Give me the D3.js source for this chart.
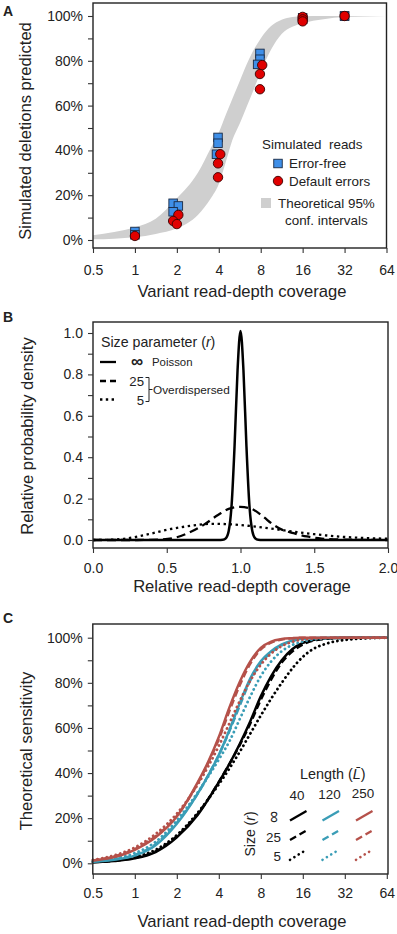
<!DOCTYPE html>
<html><head><meta charset="utf-8">
<script src="https://cdn.jsdelivr.net/npm/d3@7"></script>
<style>
body{margin:0;background:#fff}
svg{display:block}
text{font-family:"Liberation Sans",Arial,Helvetica,sans-serif;fill:#222}
</style>
</head><body>
<svg id="c" width="397" height="934"></svg>
<script>
// ---------------- DATA ----------------
const coverageTicks = [0.5, 1, 2, 4, 8, 16, 32, 64];
const pctTicks = [0, 10, 20, 30, 40, 50, 60, 70, 80, 90, 100];
const pctLabels = [0, 20, 40, 60, 80, 100];

// Panel A: theoretical 95% band
const bandX     = [0.5, 0.71, 1, 1.41, 2, 2.83, 3.5, 4, 4.5, 5, 5.66, 6.3, 7, 8, 9.5, 11.3, 13.5, 16, 22.6, 32, 45, 64];
const bandUpper = [2.1, 3.6, 5.7, 9.5, 18.6, 30, 41, 48, 56, 63, 71, 78, 84, 90, 95.5, 98.3, 99.5, 99.9, 100, 100, 100, 100];
const bandLower = [0.3, 0.6, 1.2, 2.7, 5.2, 11.2, 18.5, 25, 35, 44.5, 52, 59, 66, 75, 85, 92, 95.2, 96.8, 98.6, 99.5, 99.8, 100];

// Panel A: simulated reads
const errorFree = [[1,3.8],[1,2.3],[1.88,16.4],[2.05,15.2],[1.88,12.6],[3.95,45.8],[3.95,43.2],[3.85,38.3],
                   [7.9,83.3],[7.9,80.7],[7.6,78.4],[16,99.2],[16,98.5],[32,100],[32,100]];
const defaultErrors = [[1,1.8],[2.05,11.2],[1.88,8.5],[2.0,7.1],[4.1,38.3],[3.95,34.2],[3.95,28],
                   [8.2,78.1],[7.9,74.1],[7.9,67.3],[16,99.6],[16,98.5],[16,97.6],[32,100]];

// Panel B: relative probability density
const bTicksX = [0, 0.5, 1, 1.5, 2];
const bTicksY = [0, 0.1, 0.2, 0.3, 0.4, 0.5, 0.6, 0.7, 0.8, 0.9, 1.0];
const bLabelsY = [0, 0.2, 0.4, 0.6, 0.8, 1.0];
const poisson = [[0,0],[0.85,0],[0.88,0.001],[0.9,0.008],[0.92,0.044],[0.94,0.172],[0.96,0.458],[0.98,0.82],[1.0,1.01],
                 [1.02,0.82],[1.04,0.458],[1.06,0.172],[1.08,0.044],[1.1,0.008],[1.12,0.001],[1.15,0],[2,0]];
const nb25 = [[0,0],[0.3,0],[0.45,0.002],[0.55,0.01],[0.65,0.035],[0.75,0.073],[0.85,0.122],[0.93,0.153],[1.0,0.16],
              [1.07,0.152],[1.15,0.115],[1.22,0.075],[1.28,0.05],[1.36,0.033],[1.45,0.017],[1.55,0.007],[1.7,0.002],[2,0]];
const nb5 = [[0,0],[0.1,0.001],[0.2,0.005],[0.3,0.016],[0.4,0.032],[0.5,0.049],[0.6,0.062],[0.7,0.072],[0.8,0.078],
             [0.9,0.077],[1.0,0.072],[1.1,0.065],[1.2,0.056],[1.3,0.046],[1.4,0.037],[1.5,0.028],[1.6,0.021],
             [1.7,0.015],[1.8,0.011],[1.9,0.008],[2.0,0.006]];

// Panel C: theoretical sensitivity (length 40 / 120 / 250; size inf / 25 / 5)
const sensL40 = {
  inf: [[0.5,0.5],[0.71,1.0],[1,2.2],[1.41,5],[2,11.5],[2.83,21.5],[4,36],[4.76,44],[5.66,53],[6.73,63],[8,74],[9.5,83],[11.3,90],[13.5,95],[16,97.7],[19,99],[22.6,99.6],[32,100],[64,100]],
  r25: [[0.5,0.5],[0.71,1.1],[1,2.4],[1.41,5.3],[2,12],[2.83,22],[4,36],[4.76,44],[5.66,52.5],[6.73,62],[8,72.5],[9.5,81.5],[11.3,89],[13.5,94],[16,97],[19,98.7],[22.6,99.4],[32,99.9],[64,100]],
  r5:  [[0.5,0.6],[0.71,1.3],[1,2.8],[1.41,6],[2,12.5],[2.83,22.5],[4,35],[4.76,42],[5.66,49.5],[6.73,57.5],[8,65.5],[9.5,73],[11.3,80],[13.5,86.5],[16,91.5],[19,95],[22.6,97],[27,98.3],[32,99],[45,99.7],[64,100]]
};
const sensL120 = {
  inf: [[0.5,0.7],[0.71,1.6],[1,3.4],[1.41,8],[2,17.5],[2.83,31],[3.36,39],[4,48],[4.76,59],[5.66,71],[6.73,82],[8,89.5],[9.5,94],[11.3,97],[13.5,98.8],[16,99.6],[22.6,100],[64,100]],
  r25: [[0.5,0.8],[0.71,1.8],[1,3.7],[1.41,8.5],[2,18],[2.83,31],[3.36,39],[4,48],[4.76,58.5],[5.66,70],[6.73,81],[8,88.8],[9.5,93.5],[11.3,96.6],[13.5,98.5],[16,99.4],[22.6,99.9],[64,100]],
  r5:  [[0.5,1],[0.71,2.2],[1,4.5],[1.41,9.5],[2,19],[2.83,31.5],[4,46],[4.76,54],[5.66,64],[6.73,74],[8,83],[9.5,89.5],[11.3,94],[13.5,96.8],[16,98.3],[19,99.2],[22.6,99.6],[32,99.9],[64,100]]
};
const sensL250 = {
  inf: [[0.5,1.2],[0.71,2.8],[1,6],[1.41,11.5],[2,20.7],[2.83,36],[3.36,45],[4,56],[4.76,69],[5.66,80.5],[6.73,89.5],[8,95.5],[9.5,98.3],[11.3,99.4],[13.5,99.8],[16,100],[64,100]],
  r25: [[0.5,1.3],[0.71,3],[1,6.3],[1.41,12],[2,21],[2.83,35.5],[3.36,44.5],[4,55],[4.76,67.5],[5.66,79],[6.73,88.5],[8,94.8],[9.5,97.8],[11.3,99.2],[13.5,99.7],[16,100],[64,100]],
  r5:  [[0.5,1.5],[0.71,3.5],[1,7],[1.41,13],[2,22],[2.83,35],[3.36,43],[4,52],[4.76,62],[5.66,72],[6.73,81],[8,88],[9.5,93],[11.3,96.3],[13.5,98.2],[16,99.2],[22.6,99.8],[32,100],[64,100]]
};
const lengthLabels = ["40", "120", "250"];
const sizeLabels = ["\u221E", "25", "5"];

// ---------------- DRAWING ----------------
const svg = d3.select("#c");
const FONT = '"Liberation Sans",Arial,Helvetica,sans-serif';
const ink = "#222";

function box(x0, x1, y0, y1) {
  svg.append("rect").attr("x", x0).attr("y", y0).attr("width", x1 - x0).attr("height", y1 - y0)
    .attr("fill", "none").attr("stroke", ink).attr("stroke-width", 1.4);
}
function leftAxis(scale, ticks, labelled, fmt, x) {
  const g = svg.append("g").attr("transform", `translate(${x},0)`)
    .call(d3.axisLeft(scale).tickValues(ticks).tickSize(5).tickPadding(5)
      .tickFormat(d => labelled.includes(d) ? fmt(d) : ""));
  g.select(".domain").remove();
  g.attr("font-family", FONT).attr("font-size", 14).attr("color", ink);
  g.selectAll(".tick line").attr("stroke", "#333").attr("stroke-width", 1.1);
  return g;
}
function bottomAxis(scale, ticks, fmt, y, baseOff) {
  const g = svg.append("g").attr("transform", `translate(0,${y})`)
    .call(d3.axisBottom(scale).tickValues(ticks).tickSize(5).tickFormat(fmt));
  g.select(".domain").remove();
  g.attr("font-family", FONT).attr("font-size", 14).attr("color", ink);
  g.selectAll(".tick line").attr("stroke", "#333").attr("stroke-width", 1.1);
  g.selectAll(".tick text").attr("y", baseOff).attr("dy", null);
  return g;
}
function yTitle(txt, x, y) {
  svg.append("text").attr("transform", `translate(${x},${y}) rotate(-90)`).attr("text-anchor", "middle")
    .attr("font-size", 16.6).text(txt);
}
function xTitle(txt, x, y) {
  svg.append("text").attr("x", x).attr("y", y).attr("text-anchor", "middle").attr("font-size", 16.6).text(txt);
}
function panelLabel(t, y) {
  svg.append("text").attr("x", 3).attr("y", y).attr("font-size", 14).attr("font-weight", "bold").text(t);
}
const covFmt = d => String(d);
const pctFmt = d => d + "%";

// ===== Panel A =====
const xA = d3.scaleLog().base(2).domain([0.5, 64]).range([93, 386.5]);
const yA = d3.scaleLinear().domain([0, 100]).range([240, 16]);
const bandData = bandX.map((x, i) => ({x, lo: bandLower[i], hi: bandUpper[i]}));
svg.append("path").datum(bandData)
  .attr("d", d3.area().x(d => xA(d.x)).y0(d => yA(d.lo)).y1(d => yA(d.hi)).curve(d3.curveMonotoneX))
  .attr("fill", "#cfcfcf");
const sq = 8.5;
svg.append("g").selectAll("rect").data(errorFree).join("rect")
  .attr("x", d => xA(d[0]) - sq / 2).attr("y", d => yA(d[1]) - sq / 2).attr("width", sq).attr("height", sq)
  .attr("fill", "#3f8fe8").attr("stroke", "#1a2a44").attr("stroke-width", 0.9);
svg.append("g").selectAll("circle").data(defaultErrors).join("circle")
  .attr("cx", d => xA(d[0])).attr("cy", d => yA(d[1])).attr("r", 4.7)
  .attr("fill", "#e00000").attr("stroke", "#3a0000").attr("stroke-width", 0.9);
box(93, 386.5, 3, 248);
leftAxis(yA, pctTicks, pctLabels, pctFmt, 93);
bottomAxis(xA, coverageTicks, covFmt, 248, 27);
yTitle("Simulated deletions predicted", 31, 131);
xTitle("Variant read-depth coverage", 242, 297);
panelLabel("A", 16);
// legend A
const legA = svg.append("g").attr("font-size", 13.4);
legA.append("text").attr("x", 262).attr("y", 149).style("white-space", "pre").text("Simulated  reads");
legA.append("rect").attr("x", 278 - 4.25).attr("y", 163.5 - 4.25).attr("width", sq).attr("height", sq)
  .attr("fill", "#3f8fe8").attr("stroke", "#1a2a44").attr("stroke-width", 0.9);
legA.append("text").attr("x", 289).attr("y", 168).text("Error-free");
legA.append("circle").attr("cx", 278).attr("cy", 181).attr("r", 4.7)
  .attr("fill", "#e00000").attr("stroke", "#3a0000").attr("stroke-width", 0.9);
legA.append("text").attr("x", 289).attr("y", 186).text("Default errors");
legA.append("rect").attr("x", 261).attr("y", 198).attr("width", 10).attr("height", 10).attr("fill", "#cfcfcf");
legA.append("text").attr("x", 278).attr("y", 208).text("Theoretical 95%");
legA.append("text").attr("x", 285).attr("y", 225).text("conf. intervals");

// ===== Panel B =====
const xB = d3.scaleLinear().domain([0, 2]).range([93, 388]);
const yB = d3.scaleLinear().domain([0, 1]).range([540, 333]);
const lineB = d3.line().x(d => xB(d[0])).y(d => yB(d[1])).curve(d3.curveMonotoneX);
svg.append("path").datum(nb5).attr("d", lineB).attr("fill", "none").attr("stroke", "#000")
  .attr("stroke-width", 2.3).attr("stroke-dasharray", "2.4,3.6");
svg.append("path").datum(nb25).attr("d", lineB).attr("fill", "none").attr("stroke", "#000")
  .attr("stroke-width", 2.3).attr("stroke-dasharray", "9,5");
svg.append("path").datum(poisson).attr("d", lineB).attr("fill", "none").attr("stroke", "#000")
  .attr("stroke-width", 2.5);
box(93, 388, 322, 548);
leftAxis(yB, bTicksY, bLabelsY, d3.format(".1f"), 93);
bottomAxis(xB, bTicksX, d3.format(".1f"), 548, 25);
yTitle("Relative probability density", 33, 436);
xTitle("Relative read-depth coverage", 242, 592);
panelLabel("B", 322);
// legend B
const legB = svg.append("g");
const tB = legB.append("text").attr("x", 101).attr("y", 347).attr("font-size", 14.2);
tB.append("tspan").text("Size parameter (");
tB.append("tspan").attr("font-style", "italic").text("r");
tB.append("tspan").text(")");
const legBRows = [{y: 362, dash: null, lab: sizeLabels[0]}, {y: 381, dash: "6,4", lab: sizeLabels[1]}, {y: 399.5, dash: "2.4,3.4", lab: sizeLabels[2]}];
legBRows.forEach(r => {
  const ln = legB.append("line").attr("x1", 100).attr("x2", 116).attr("y1", r.y).attr("y2", r.y)
    .attr("stroke", "#000").attr("stroke-width", 2.3);
  if (r.dash) ln.attr("stroke-dasharray", r.dash);
});
legB.append("text").attr("x", 137).attr("y", 367).attr("text-anchor", "middle").attr("font-size", 17).attr("font-weight", "bold").text(sizeLabels[0]);
legB.append("text").attr("x", 152).attr("y", 366).attr("font-size", 11.4).text("Poisson");
legB.append("text").attr("x", 144).attr("y", 386).attr("text-anchor", "end").attr("font-size", 13.2).text(sizeLabels[1]);
legB.append("text").attr("x", 144).attr("y", 404.5).attr("text-anchor", "end").attr("font-size", 13.2).text(sizeLabels[2]);
legB.append("path").attr("d", "M145.5,377.5H149V401.5H145.5M149,389.5H152.5").attr("fill", "none")
  .attr("stroke", ink).attr("stroke-width", 1);
legB.append("text").attr("x", 153).attr("y", 393.5).attr("font-size", 11.8).text("Overdispersed");

// ===== Panel C =====
const xC = d3.scaleLog().base(2).domain([0.5, 64]).range([92.8, 386.8]);
const yC = d3.scaleLinear().domain([0, 100]).range([863.3, 637.7]);
const lineC = d3.line().x(d => xC(d[0])).y(d => yC(d[1])).curve(d3.curveMonotoneX);
const colC = ["#000000", "#3a9db6", "#b5514a"];
const dashC = {inf: null, r25: "7,3.5", r5: "0.1,4.6"};
const setsC = [sensL40, sensL120, sensL250];
setsC.forEach((set, i) => {
  ["r5", "r25", "inf"].forEach(k => {
    const p = svg.append("path").datum(set[k]).attr("d", lineC).attr("fill", "none")
      .attr("stroke", colC[i]).attr("stroke-width", k === "r5" ? 2.8 : 2.5);
    if (dashC[k]) p.attr("stroke-dasharray", dashC[k]);
    if (k === "r5") p.attr("stroke-linecap", "round");
  });
});
box(92.8, 388, 624, 874);
leftAxis(yC, pctTicks, pctLabels, pctFmt, 92.8);
bottomAxis(xC, coverageTicks, covFmt, 874, 24);
yTitle("Theoretical sensitivity", 31.5, 751);
xTitle("Variant read-depth coverage", 242, 927);
panelLabel("C", 623);
// legend C
const legC = svg.append("g");
const tC = legC.append("text").attr("x", 300).attr("y", 779).attr("font-size", 14.4);
tC.append("tspan").text("Length (");
tC.append("tspan").attr("font-style", "italic").text("L\u0304");
tC.append("tspan").text(")");
const colX = [290, 322.5, 356];
const colLabY = [800, 799, 798];
lengthLabels.forEach((l, i) => {
  legC.append("text").attr("x", colX[i] + 7).attr("y", colLabY[i]).attr("text-anchor", "middle").attr("font-size", 13.4).text(l);
});
const tS = legC.append("text").attr("transform", "translate(255,834) rotate(-90)").attr("text-anchor", "middle").attr("font-size", 14);
tS.append("tspan").text("Size (");
tS.append("tspan").attr("font-style", "italic").text("r");
tS.append("tspan").text(")");
const rowY = [820.5, 840, 859.8];
const rowKeys = ["inf", "r25", "r5"];
legC.append("text").attr("transform", "translate(279,817) rotate(-90)").attr("text-anchor", "middle").attr("font-size", 17).text(sizeLabels[0]);
legC.append("text").attr("x", 281).attr("y", 842).attr("text-anchor", "end").attr("font-size", 13.4).text(sizeLabels[1]);
legC.append("text").attr("x", 281).attr("y", 861).attr("text-anchor", "end").attr("font-size", 13.4).text(sizeLabels[2]);
rowKeys.forEach((k, r) => {
  colX.forEach((cx, c) => {
    const len = k === "r5" ? 15.5 : 16.5;
    const ln = legC.append("line").attr("x1", cx).attr("y1", rowY[r]).attr("x2", cx + len).attr("y2", rowY[r] - 9.5)
      .attr("stroke", colC[c]).attr("stroke-width", k === "r5" ? 2.6 : 2.3);
    if (k === "r25") ln.attr("stroke-dasharray", "7,4");
    if (k === "r5") ln.attr("stroke-dasharray", "0.1,5").attr("stroke-linecap", "round");
  });
});
</script>
</body></html>
